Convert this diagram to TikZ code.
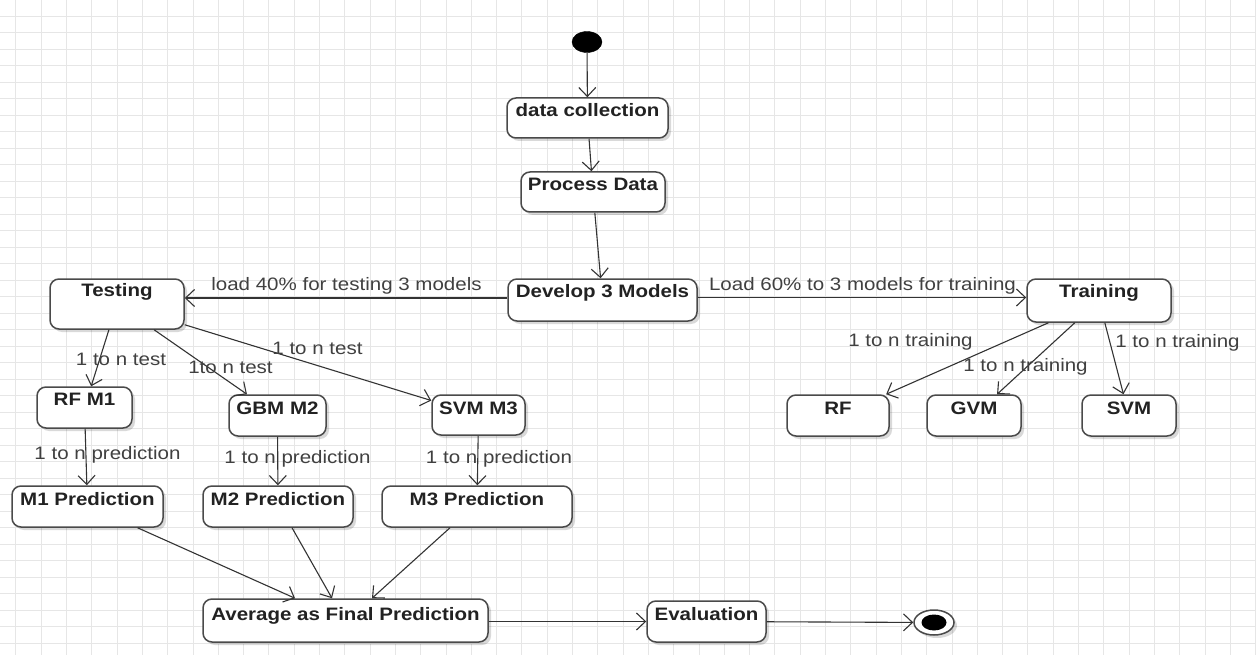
\documentclass[tikz,border=0pt]{standalone}
\usepackage{fontspec}
\usetikzlibrary{arrows.meta,shapes.geometric,shadows}
\newfontfamily\nodefont{Liberation Sans}[FakeStretch=1.14]
\definecolor{gridc}{HTML}{E6E6E6}
\definecolor{boxc}{HTML}{4A4A4A}
\definecolor{linec}{HTML}{333333}
\definecolor{lblc}{HTML}{404040}
\definecolor{txtc}{HTML}{222222}
\tikzset{
  box/.style={draw=boxc, line width=1.5pt, rounded corners=9pt, fill=white,
    inner sep=3pt, text height=16pt, text=txtc,
    font=\nodefont\fontsize{18}{20}\selectfont\bfseries,
    drop shadow={shadow xshift=3pt, shadow yshift=-3pt, fill=black, opacity=0.15}},
  lbl/.style={text=lblc, inner sep=0pt, font=\nodefont\fontsize{18}{20}\selectfont},
  arr/.style={draw=linec, line width=1.1pt, -{Straight Barb[length=9pt,width=17pt,line width=1.1pt]}},
}
\begin{document}
\begin{tikzpicture}[x=1pt,y=-1pt]
\useasboundingbox (0,0) rectangle (1256,655);
\fill[white] (0,0) rectangle (1256,655);
\foreach \i in {0,...,49} \draw[gridc, line width=0.8pt] ({15.8+25.3*\i},0) -- ++(0,655);
\foreach \j in {0,...,39} \draw[gridc, line width=0.8pt] (0,{16+16.5*\j}) -- ++(1256,0);

% start / end
\node[ellipse, fill=black, draw=black, minimum width=30pt, minimum height=21pt, inner sep=0pt] (start) at (587,42) {};
\node[ellipse, fill=white, draw=boxc, line width=1.5pt, minimum width=40pt, minimum height=25pt, inner sep=0pt,
  drop shadow={shadow xshift=3pt, shadow yshift=-3pt, fill=black, opacity=0.15}] (end) at (934,622.5) {};
\node[ellipse, fill=black, minimum width=25pt, minimum height=16pt, inner sep=0pt] (endin) at (end.center) {};

% boxes
\node[box, minimum width=161pt, text depth=18pt] (dc) at (587.5,118) {data collection};
\node[box, minimum width=144pt, text depth=18pt] (pd) at (593,192) {Process Data};
\node[box, minimum width=189pt, text depth=20pt] (dev) at (602.5,300) {Develop 3 Models};
\node[box, minimum width=134pt, text height=14pt, text depth=30pt] (test) at (117,304) {Testing};
\node[box, minimum width=144pt, text height=15pt, text depth=22pt] (train) at (1099,300.5) {Training};
\node[box, minimum width=95pt, text height=15pt, text depth=20pt] (rfm1) at (84.5,407.5) {RF M1};
\node[box, minimum width=97pt, text depth=19pt] (gbm) at (277.5,415.5) {GBM M2};
\node[box, minimum width=93pt, text depth=18pt] (svmm3) at (478.5,415) {SVM M3};
\node[box, minimum width=102pt, text depth=19pt] (rf) at (838,415.5) {RF};
\node[box, minimum width=94pt, text depth=19pt] (gvm) at (974,415.5) {GVM};
\node[box, minimum width=94pt, text depth=19pt] (svm) at (1129,415.5) {SVM};
\node[box, minimum width=151pt, text depth=19pt] (m1p) at (87.5,506.5) {M1 Prediction};
\node[box, minimum width=150pt, text depth=19pt] (m2p) at (278,506.5) {M2 Prediction};
\node[box, minimum width=190pt, text depth=19pt] (m3p) at (477,506.5) {M3 Prediction};
\node[box, minimum width=285pt, text height=18pt, text depth=19pt] (avg) at (345.5,620.5) {Average as Final Prediction};
\node[box, minimum width=119pt, text depth=19pt] (eval) at (706.5,621.5) {Evaluation};

% connectors
\draw[arr] (start) -- (dc);
\draw[arr] (dc) -- (pd);
\draw[arr] (pd) -- (dev);
\draw[arr] ([yshift=2pt]dev.west) -- ([yshift=2pt]dev.west -| test.east);
\draw[arr] ([yshift=2.5pt]dev.east) -- ([yshift=2.5pt]dev.east -| train.west);
\draw[arr] (test) -- (rfm1);
\draw[arr] (test) -- (gbm);
\draw[arr] (test) -- (svmm3);
\draw[arr] (train) -- (rf);
\draw[arr] (train) -- (gvm);
\draw[arr] (train) -- (svm);
\draw[arr] (rfm1) -- (m1p);
\draw[arr] (gbm) -- (m2p);
\draw[arr] (svmm3) -- (m3p);
\draw[arr] ([xshift=50pt]m1p.south) -- ([xshift=-50.5pt]avg.north);
\draw[arr] ([xshift=14pt]m2p.south) -- ([xshift=-13.5pt]avg.north);
\draw[arr] ([xshift=-27pt]m3p.south) -- ([xshift=26.5pt]avg.north);
\draw[arr] (avg.east |- eval) -- (eval.west);
\draw[arr] (eval) -- (end);

% labels
\node[lbl] (l40) at (346.5,286) {load 40\% for testing 3 models};
\node[lbl] (l60) at (862.5,286) {Load 60\% to 3 models for training};
\node[lbl] (lt1) at (121,359) {1 to n test};
\node[lbl] (lt2) at (230.5,367) {1to n test};
\node[lbl] (lt3) at (317.5,348) {1 to n test};
\node[lbl] (ltr1) at (910.5,342) {1 to n training};
\node[lbl] (ltr2) at (1025.5,367) {1 to n training};
\node[lbl] (ltr3) at (1177.5,343) {1 to n training};
\node[lbl] (lp1) at (107.5,455) {1 to n prediction};
\node[lbl] (lp2) at (297.5,459) {1 to n prediction};
\node[lbl] (lp3) at (499,459) {1 to n prediction};
\end{tikzpicture}
\end{document}
